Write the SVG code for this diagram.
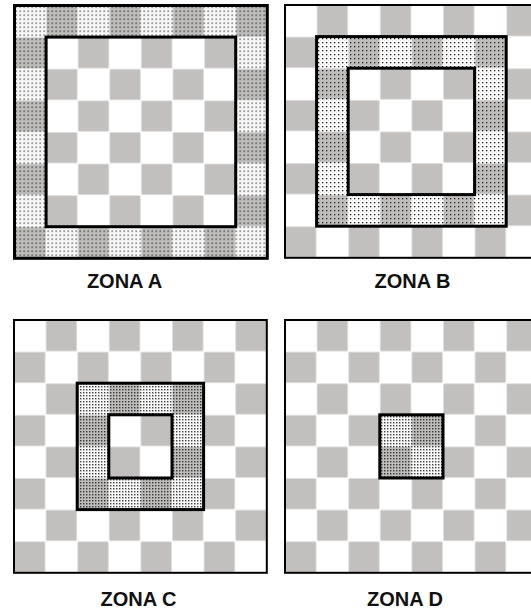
<svg xmlns="http://www.w3.org/2000/svg" width="531" height="610" viewBox="0 0 531 610">
<style>
.bg{fill:#ffffff}
.board{fill:url(#checker)}
.frame{fill:none;stroke:#000;stroke-width:2}
.frameA{fill:none;stroke:#000;stroke-width:3}
.zone{fill:none;stroke:#000;stroke-width:3}
.dots{fill:url(#dots);fill-rule:evenodd}
.fine{fill:url(#fine);fill-rule:evenodd}
.lbl{font-family:"Liberation Sans",Arial,sans-serif;font-weight:bold;font-size:20px;fill:#111;text-anchor:middle}
</style>
<defs>
<pattern id="checker" patternUnits="userSpaceOnUse" x="0" y="0" width="63.2" height="63.2">
<rect x="0" y="0" width="63.2" height="63.2" fill="#fff"/>
<rect x="32.1" y="0.5" width="30.6" height="30.6" fill="#c1c0bf"/>
<rect x="0.5" y="32.1" width="30.6" height="30.6" fill="#c1c0bf"/>
</pattern>
<pattern id="dots" patternUnits="userSpaceOnUse" x="0" y="0" width="4" height="4">
<rect x="1" y="1" width="1.3" height="1.3" fill="#1a1a1a"/>
<rect x="3" y="3" width="0.8" height="0.8" fill="#888" fill-opacity="0.5"/>
</pattern>
<pattern id="fine" patternUnits="userSpaceOnUse" x="0" y="0" width="3" height="3">
<rect x="0" y="0" width="1.4" height="1.4" fill="#1a1a1a" fill-opacity="0.85"/>
<rect x="1.5" y="1.5" width="0.8" height="0.8" fill="#777" fill-opacity="0.5"/>
</pattern>
</defs>
<rect class="bg" x="0" y="0" width="531" height="610"/>

<g id="zona-a" transform="translate(14.5,5.5)">
<rect class="board" x="0" y="0" width="252.8" height="252.8"/>
<path class="dots" d="M0,0H252.8V252.8H0Z M31.6,31.6V221.2H221.2V31.6Z"/>
<rect class="zone" x="31.6" y="31.6" width="189.6" height="189.6"/>
<rect class="frameA" x="0" y="0" width="252.8" height="252.8"/>
</g>

<g id="zona-b" transform="translate(285,5)">
<rect class="board" x="0" y="0" width="252.8" height="252.8"/>
<path class="dots" d="M31.6,31.6H221.2V221.2H31.6Z M63.2,63.2V189.6H189.6V63.2Z"/>
<rect class="zone" x="31.6" y="31.6" width="189.6" height="189.6"/>
<rect class="zone" x="63.2" y="63.2" width="126.4" height="126.4"/>
<rect class="frame" x="0" y="0" width="252.8" height="252.8"/>
</g>

<g id="zona-c" transform="translate(14,320)">
<rect class="board" x="0" y="0" width="252.8" height="252.8"/>
<path class="fine" d="M63.2,63.2H189.6V189.6H63.2Z M94.8,94.8V158H158V94.8Z"/>
<rect class="zone" x="63.2" y="63.2" width="126.4" height="126.4"/>
<rect class="zone" x="94.8" y="94.8" width="63.2" height="63.2"/>
<rect class="frame" x="0" y="0" width="252.8" height="252.8"/>
</g>

<g id="zona-d" transform="translate(285,320)">
<rect class="board" x="0" y="0" width="252.8" height="252.8"/>
<rect class="fine" x="94.8" y="94.8" width="63.2" height="63.2"/>
<rect class="zone" x="94.8" y="94.8" width="63.2" height="63.2"/>
<rect class="frame" x="0" y="0" width="252.8" height="252.8"/>
</g>

<g id="labels">
<text class="lbl" x="124.5" y="288">ZONA A</text>
<text class="lbl" x="412.5" y="288">ZONA B</text>
<text class="lbl" x="138.5" y="606">ZONA C</text>
<text class="lbl" x="405" y="606">ZONA D</text>
</g>
</svg>
